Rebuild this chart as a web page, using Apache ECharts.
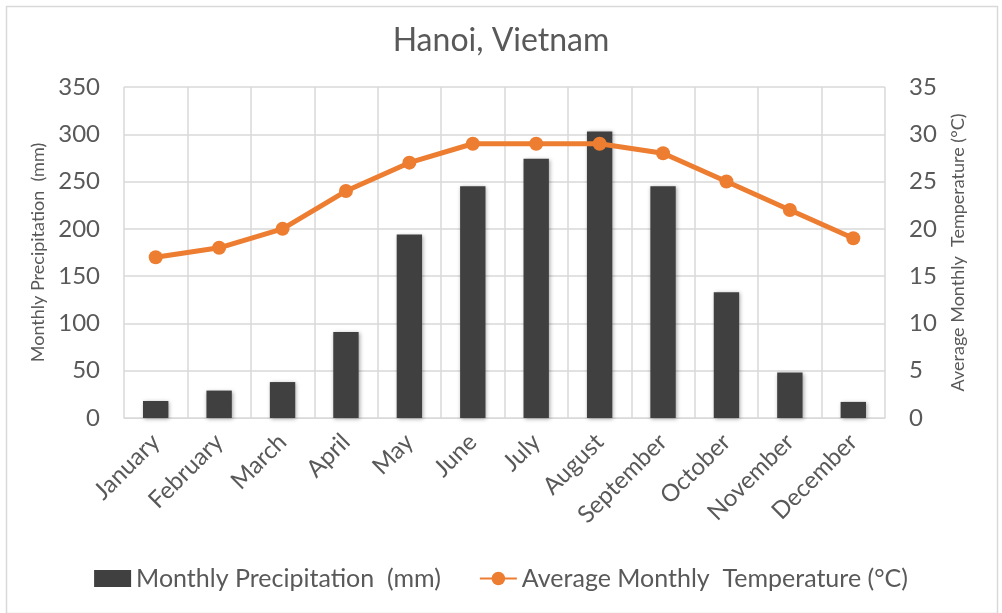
<!DOCTYPE html>
<html>
<head>
<meta charset="utf-8">
<script src="https://cdn.jsdelivr.net/npm/echarts@6/dist/echarts.min.js"></script>
<style>
html,body{margin:0;padding:0;background:#fff;}
#chart{width:1002px;height:613px;}
</style>
</head>
<body>
<div id="chart"></div>
<script>
var months = ['January','February','March','April','May','June','July','August','September','October','November','December'];
var precipitation = [18, 29, 38, 91, 194, 245, 274, 303, 245, 133, 48, 17];
var temperature = [17, 18, 20, 24, 27, 29, 29, 29, 28, 25, 22, 19];
var precipTicks = {min: 0, max: 350, interval: 50};
var tempTicks = {min: 0, max: 35, interval: 5};

var FONT = 'Lato, "Open Sans", sans-serif';
var TXT = '#595959';
var chart = echarts.init(document.getElementById('chart'));
chart.setOption({
  animation: false,
  backgroundColor: '#fff',
  textStyle: {fontFamily: FONT},
  graphic: [{
    type: 'rect', left: 4, top: 4,
    shape: {width: 991, height: 607},
    style: {fill: 'none', stroke: '#d9d9d9', lineWidth: 1.5}
  }],
  title: {
    text: 'Hanoi, Vietnam', left: 'center', top: 20,
    textStyle: {fontFamily: FONT, fontSize: 32, fontWeight: 'normal', color: TXT}
  },
  legend: {
    bottom: 17, left: 'center', itemGap: 38,
    textStyle: {fontFamily: FONT, fontSize: 25, color: TXT},
    data: [
      {name: 'Monthly Precipitation  (mm)', icon: 'rect', itemStyle: {color: '#404040'}},
      {name: 'Average Monthly  Temperature (°C)'}
    ],
    itemWidth: 37, itemHeight: 17
  },
  grid: {left: 124, right: 117, top: 87, bottom: 195},
  xAxis: {
    type: 'category', data: months,
    axisLine: {lineStyle: {color: '#d9d9d9'}},
    axisTick: {show: false},
    splitLine: {show: true, lineStyle: {color: '#d9d9d9', width: 1.5}},
    axisLabel: {rotate: 45, fontFamily: FONT, fontSize: 24, color: TXT, margin: 20, interval: 0}
  },
  yAxis: [{
    type: 'value', min: precipTicks.min, max: precipTicks.max, interval: precipTicks.interval,
    name: 'Monthly Precipitation  (mm)', nameLocation: 'middle', nameGap: 76, nameRotate: 90,
    nameTextStyle: {fontFamily: FONT, fontSize: 18, color: TXT},
    axisLine: {show: false}, axisTick: {show: false},
    splitLine: {lineStyle: {color: '#d9d9d9', width: 1.5}},
    axisLabel: {fontFamily: FONT, fontSize: 24, color: TXT, margin: 24}
  }, {
    type: 'value', min: tempTicks.min, max: tempTicks.max, interval: tempTicks.interval,
    name: 'Average Monthly  Temperature (°C)', nameLocation: 'middle', nameGap: 64, nameRotate: 90,
    nameTextStyle: {fontFamily: FONT, fontSize: 18, color: TXT},
    axisLine: {show: false}, axisTick: {show: false},
    splitLine: {show: false},
    axisLabel: {fontFamily: FONT, fontSize: 24, color: TXT, margin: 24}
  }],
  series: [{
    name: 'Monthly Precipitation  (mm)', type: 'bar', data: precipitation,
    barWidth: '40%', yAxisIndex: 0,
    itemStyle: {color: '#404040', shadowColor: 'rgba(0,0,0,0.35)', shadowBlur: 4, shadowOffsetX: 1, shadowOffsetY: 1}
  }, {
    name: 'Average Monthly  Temperature (°C)', type: 'line', data: temperature, yAxisIndex: 1,
    symbol: 'circle', symbolSize: 14,
    lineStyle: {color: '#ED7D31', width: 5},
    itemStyle: {color: '#ED7D31'}
  }]
});
</script>
</body>
</html>
